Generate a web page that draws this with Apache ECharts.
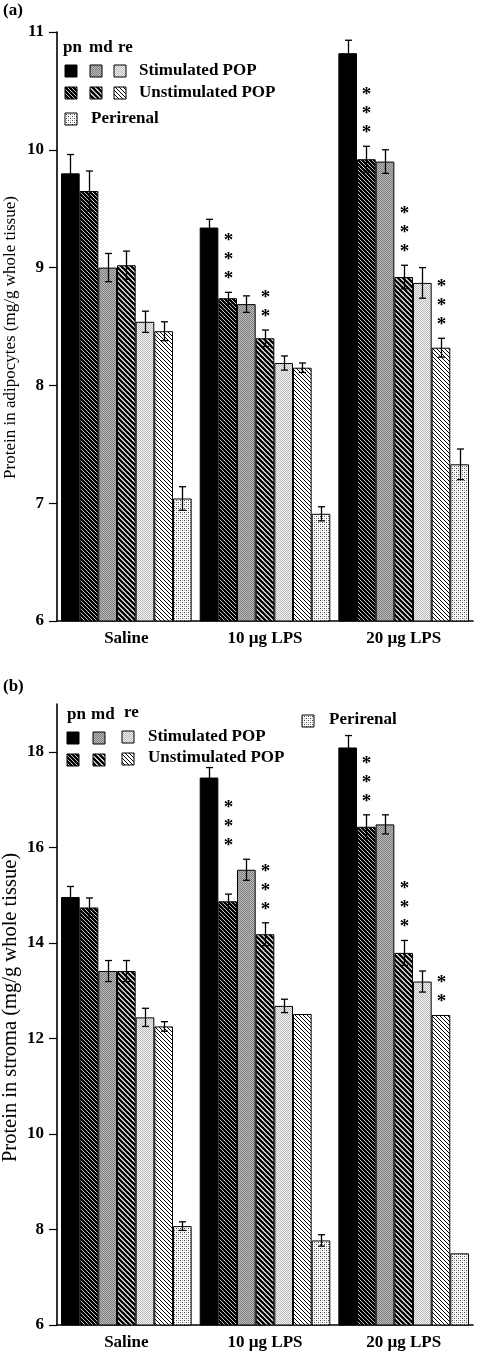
<!DOCTYPE html>
<html><head><meta charset="utf-8">
<script src="https://cdn.jsdelivr.net/npm/echarts@6/dist/echarts.min.js"></script>
<style>html,body{margin:0;padding:0;background:#fff}#c{width:481px;height:1355px}</style>
</head><body><div id="c"></div>
<script>
// ---------------- DATA ----------------
const categories = ['Saline', '10 µg LPS', '20 µg LPS'];
const seriesNames = ['pn Stimulated POP', 'pn Unstimulated POP', 'md Stimulated POP', 'md Unstimulated POP', 're Stimulated POP', 're Unstimulated POP', 'Perirenal'];

// Panel (a): protein in adipocytes (mg/g whole tissue)
const adipTicks = [6, 7, 8, 9, 10, 11];
const adipPnStim     = [9.80, 9.34, 10.82];
const adipPnUnstim   = [9.65, 8.74, 9.92];
const adipMdStim     = [9.00, 8.69, 9.90];
const adipMdUnstim   = [9.02, 8.40, 8.92];
const adipReStim     = [8.54, 8.19, 8.87];
const adipReUnstim   = [8.46, 8.15, 8.32];
const adipPerirenal  = [7.04, 6.91, 7.33];
const adipPnStimErr    = [0.16, 0.07, 0.11];
const adipPnUnstimErr  = [0.17, 0.05, 0.11];
const adipMdStimErr    = [0.12, 0.07, 0.10];
const adipMdUnstimErr  = [0.12, 0.07, 0.10];
const adipReStimErr    = [0.09, 0.06, 0.13];
const adipReUnstimErr  = [0.08, 0.04, 0.08];
const adipPerirenalErr = [0.10, 0.06, 0.13];
const adipStarsPnUnstim = [0, 3, 3];
const adipStarsMdUnstim = [0, 2, 3];
const adipStarsReUnstim = [0, 0, 3];

// Panel (b): protein in stroma (mg/g whole tissue)
const stromaTicks = [6, 8, 10, 12, 14, 16, 18];
const stromaPnStim     = [14.96, 17.46, 18.09];
const stromaPnUnstim   = [14.74, 14.87, 16.43];
const stromaMdStim     = [13.41, 15.53, 16.48];
const stromaMdUnstim   = [13.41, 14.18, 13.79];
const stromaReStim     = [12.44, 12.68, 13.19];
const stromaReUnstim   = [12.25, 12.51, 12.49];
const stromaPerirenal  = [8.07, 7.77, 7.50];
const stromaPnStimErr    = [0.22, 0.21, 0.25];
const stromaPnUnstimErr  = [0.20, 0.15, 0.25];
const stromaMdStimErr    = [0.22, 0.22, 0.20];
const stromaMdUnstimErr  = [0.22, 0.24, 0.26];
const stromaReStimErr    = [0.19, 0.14, 0.22];
const stromaReUnstimErr  = [0.10, 0.00, 0.00];
const stromaPerirenalErr = [0.09, 0.12, 0.00];
const stromaStarsPnUnstim = [0, 3, 3];
const stromaStarsMdUnstim = [0, 3, 3];
const stromaStarsReUnstim = [0, 0, 2];

// ---------------- STYLE ----------------
const FONT = 'Liberation Serif';
const GAP = 0.058;

function makeCanvas(w, h, draw) {
  const c = document.createElement('canvas'); c.width = w; c.height = h;
  draw(c.getContext('2d')); return c;
}
function hatch(p, lw, fg, bg) {
  return makeCanvas(p, p, ctx => {
    ctx.fillStyle = bg; ctx.fillRect(0, 0, p, p);
    ctx.strokeStyle = fg; ctx.lineWidth = lw; ctx.beginPath();
    for (const k of [-1, 0, 1]) { ctx.moveTo(k * p - p, -p); ctx.lineTo(k * p + 2 * p, 2 * p); }
    ctx.stroke();
  });
}
function checker(c1, c2) {
  return makeCanvas(2, 2, ctx => {
    ctx.fillStyle = c1; ctx.fillRect(0, 0, 2, 2);
    ctx.fillStyle = c2; ctx.fillRect(0, 0, 1, 1); ctx.fillRect(1, 1, 1, 1);
  });
}
function dots() {
  return makeCanvas(4, 4, ctx => {
    ctx.fillStyle = '#fff'; ctx.fillRect(0, 0, 4, 4);
    ctx.fillStyle = '#444'; ctx.fillRect(0, 0, 1, 1); ctx.fillRect(2, 2, 1, 1);
    ctx.fillStyle = '#b0b0b0'; ctx.fillRect(2, 0, 1, 1); ctx.fillRect(0, 2, 1, 1);
  });
}
const pat = img => ({ image: img, repeat: 'repeat' });
const fills = [
  '#000',
  pat(hatch(4, 1.0, '#c8c8c8', '#000')),
  pat(checker('#b8b8b8', '#808080')),
  pat(hatch(5, 2.3, '#000', '#fff')),
  pat(checker('#f2f2f2', '#bcbcbc')),
  pat(hatch(4, 1.0, '#000', '#fff')),
  pat(dots())
];

// ---------------- BUILD ----------------
const panels = [
  {
    values: [adipPnStim, adipPnUnstim, adipMdStim, adipMdUnstim, adipReStim, adipReUnstim, adipPerirenal],
    errors: [adipPnStimErr, adipPnUnstimErr, adipMdStimErr, adipMdUnstimErr, adipReStimErr, adipReUnstimErr, adipPerirenalErr],
    stars: { 1: adipStarsPnUnstim, 3: adipStarsMdUnstim, 5: adipStarsReUnstim },
    ticks: adipTicks, max: 11, interval: 1,
    name: 'Protein in adipocytes (mg/g whole tissue)', nameSize: 17, nameGap: 38, namePad: [0, 22, 0, 0]
  },
  {
    values: [stromaPnStim, stromaPnUnstim, stromaMdStim, stromaMdUnstim, stromaReStim, stromaReUnstim, stromaPerirenal],
    errors: [stromaPnStimErr, stromaPnUnstimErr, stromaMdStimErr, stromaMdUnstimErr, stromaReStimErr, stromaReUnstimErr, stromaPerirenalErr],
    stars: { 1: stromaStarsPnUnstim, 3: stromaStarsMdUnstim, 5: stromaStarsReUnstim },
    ticks: stromaTicks, max: 19, interval: 2,
    name: 'Protein in stroma (mg/g whole tissue)', nameSize: 20.5, nameGap: 36, namePad: [0, 0, 0, 14]
  }
];

const grids = [
  { left: 57, top: 32, width: 416, height: 589, containLabel: false, outerBoundsMode: 'none' },
  { left: 57, top: 704, width: 416, height: 621, containLabel: false, outerBoundsMode: 'none' }
];
const xAxes = [], yAxes = [], series = [];
panels.forEach((p, pi) => {
  xAxes.push({
    type: 'category', gridIndex: pi, data: categories,
    axisLine: { lineStyle: { color: '#000', width: 1.6 } },
    axisTick: { alignWithLabel: true, length: 6, lineStyle: { color: '#000', width: 1.2 } },
    axisLabel: { color: '#000', fontFamily: FONT, fontWeight: 'bold', fontSize: 17, margin: 9 }
  });
  yAxes.push({
    type: 'value', gridIndex: pi, min: p.ticks[0], max: p.max, interval: p.interval,
    splitLine: { show: false },
    axisLine: { show: true, lineStyle: { color: '#000', width: 1.6 } },
    axisTick: { show: true, length: 8, customValues: p.ticks, lineStyle: { color: '#000', width: 1.2 } },
    axisLabel: { color: '#000', fontFamily: FONT, fontWeight: 'bold', fontSize: 17, margin: 13, customValues: p.ticks },
    name: p.name, nameLocation: 'middle', nameRotate: 90, nameGap: p.nameGap, nameMoveOverlap: false,
    nameTextStyle: { color: '#000', fontFamily: FONT, fontSize: p.nameSize, padding: p.namePad }
  });
  p.values.forEach((vals, si) => {
    series.push({
      type: 'bar', name: seriesNames[si], xAxisIndex: pi, yAxisIndex: pi,
      data: vals, barGap: '0%', barCategoryGap: (GAP * 100) + '%',
      itemStyle: { color: fills[si], borderColor: '#000', borderWidth: 1 },
      emphasis: { disabled: true }, animation: false
    });
  });
  const errData = [];
  p.values.forEach((vals, si) => vals.forEach((v, ci) => {
    const st = p.stars[si] ? p.stars[si][ci] : 0;
    // star anchor: highest error-bar top among this bar and its right neighbour
    let anchor = v + p.errors[si][ci];
    if (si + 1 < p.values.length) anchor = Math.max(anchor, p.values[si + 1][ci] + p.errors[si + 1][ci]);
    errData.push([ci, si, v, p.errors[si][ci], st, anchor]);
  }));
  series.push({
    type: 'custom', xAxisIndex: pi, yAxisIndex: pi, z: 5, animation: false, silent: true,
    encode: { x: 0, y: 2 },
    data: errData,
    renderItem: (params, api) => {
      const ci = api.value(0), si = api.value(1), v = api.value(2), e = api.value(3), st = api.value(4), an = api.value(5);
      const center = api.coord([ci, v]);
      const band = api.size([1, 0])[0];
      const gw = band * (1 - GAP);
      const bw = gw / 7;
      const x = Math.round(center[0] - gw / 2 + bw * (si + 0.5)) + 0.5;
      const yTop = api.coord([ci, v + e])[1];
      const yBot = api.coord([ci, v - e])[1];
      const yAn = api.coord([ci, an])[1];
      const children = [];
      const cap = 3.5;
      if (e > 0) {
        const ls = { stroke: '#000', lineWidth: 1.3 };
        children.push({ type: 'line', shape: { x1: x, y1: yTop, x2: x, y2: yBot }, style: ls });
        children.push({ type: 'line', shape: { x1: x - cap, y1: yTop, x2: x + cap, y2: yTop }, style: ls });
        children.push({ type: 'line', shape: { x1: x - cap, y1: yBot, x2: x + cap, y2: yBot }, style: ls });
      }
      for (let k = 0; k < st; k++) {
        children.push({
          type: 'text',
          style: { text: '*', x: x, y: yAn - 17 - 19 * k + 4, align: 'center', verticalAlign: 'middle',
                   font: 'bold 19px ' + FONT, fill: '#000' }
        });
      }
      return { type: 'group', children };
    }
  });
});

// ---------------- LEGEND / LABELS (graphic) ----------------
const txt = (text, x, y, size, extra) => Object.assign({
  type: 'text', x, y,
  style: { text, font: 'bold ' + size + 'px ' + FONT, fill: '#000', verticalAlign: 'middle', align: 'left' }
}, extra || {});
const sq = (fi, x, y) => ({
  type: 'rect', shape: { x, y, width: 12, height: 12 },
  style: { fill: fills[fi], stroke: '#000', lineWidth: 1 }
});
const graphics = [
  txt('(a)', 3, 11, 17),
  txt('pn', 63, 48, 17), txt('md', 89, 48, 17), txt('re', 118, 48, 17),
  sq(0, 65, 65), sq(2, 90, 65), sq(4, 114, 65), txt('Stimulated POP', 139, 71, 17),
  sq(1, 65, 87), sq(3, 90, 87), sq(5, 114, 87), txt('Unstimulated POP', 139, 93, 17),
  sq(6, 65, 113), txt('Perirenal', 91, 119, 17),

  txt('(b)', 3, 687, 17),
  txt('pn', 67, 715, 17), txt('md', 91, 715, 17), txt('re', 124, 713, 17),
  sq(0, 67, 732), sq(2, 93, 732), sq(4, 122, 731), txt('Stimulated POP', 148, 737, 17),
  sq(1, 67, 754), sq(3, 93, 754), sq(5, 122, 753), txt('Unstimulated POP', 148, 758, 17),
  sq(6, 302, 715), txt('Perirenal', 329, 720, 17)
];

const chart = echarts.init(document.getElementById('c'));
chart.setOption({
  backgroundColor: '#fff',
  animation: false,
  grid: grids,
  xAxis: xAxes,
  yAxis: yAxes,
  series,
  graphic: graphics
});
</script>
</body></html>
